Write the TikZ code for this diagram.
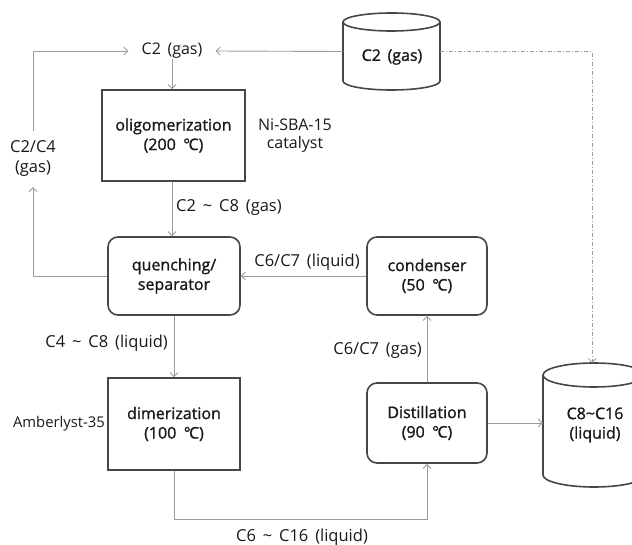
\documentclass[tikz,border=0pt]{standalone}
\usepackage{fontspec}
\setmainfont{Open Sans}[WordSpace=1.6]
\newfontfamily\semib{Open Sans}[WordSpace=1.6, FakeBold=1.2]
\usetikzlibrary{arrows.meta}
\definecolor{linec}{RGB}{155,155,155}
\definecolor{boxc}{RGB}{70,70,70}
\definecolor{txt}{RGB}{25,25,25}
\newcommand\bxfont{\semib\fontsize{16}{19.5}\selectfont}
\newcommand\lbfont{\fontsize{16.5}{20}\selectfont}
\newcommand\smfont{\fontsize{16}{18}\selectfont}
\newcommand\degc{\kern0.05em°\kern-0.1em C}
\newcommand\tl{\textasciitilde}
\tikzset{
  box/.style={draw=boxc, line width=1.6pt, align=center, font=\bxfont, text=txt, inner sep=0pt},
  rbox/.style={box, rounded corners=10pt},
  flow/.style={draw=linec, line width=0.9pt, -{Straight Barb[length=4pt,width=8pt]}},
  dashdot/.style={draw=linec, line width=0.8pt, dash pattern=on 4pt off 2pt on 1pt off 2pt, -{Straight Barb[length=4pt,width=8pt]}},
  lab/.style={font=\lbfont, text=txt, inner sep=0pt, align=center},
  small/.style={font=\smfont, text=txt, inner sep=0pt, align=center},
  cyl/.style={draw=boxc, line width=1.6pt},
}
\begin{document}
\begin{tikzpicture}[x=1pt,y=-1pt]
\useasboundingbox (0,0) rectangle (632,545);

% process boxes
\node[box, minimum width=143pt, minimum height=91pt] (olig) at (173.5,135.5) {oligomerization\\(200 \degc)};
\node[rbox, minimum width=132pt, minimum height=78pt] (quench) at (174,276) {quenching/\\separator};
\node[rbox, minimum width=120pt, minimum height=78pt] (cond) at (427,276) {condenser\\(50 \degc)};
\node[box, minimum width=132pt, minimum height=92pt] (dimer) at (174,424) {dimerization\\(100 \degc)};
\node[rbox, minimum width=120pt, minimum height=80pt] (distil) at (427,423) {Distillation\\(90 \degc)};

% cylinders
\node[inner sep=0pt, minimum width=97pt, minimum height=59pt] (c2cyl) at (391.5,51.5) {};
\draw[cyl] (343,22) -- (343,81) arc[start angle=180, end angle=360, x radius=48.5pt, y radius=9pt] -- (440,22);
\draw[cyl] (391.5,22) ellipse[x radius=48.5pt, y radius=9pt];
\node[box, draw=none] (c2cyltext) at (392,57) {C2 (gas)};

\node[inner sep=0pt, minimum width=102pt, minimum height=100pt] (prod) at (594,425) {};
\draw[cyl] (543,375) -- (543,475) arc[start angle=180, end angle=360, x radius=51pt, y radius=12pt] -- (645,375);
\draw[cyl] (594,375) ellipse[x radius=51pt, y radius=12pt];
\node[box, draw=none] (prodtext) at (595,425) {C8\tl C16\\(liquid)};
\coordinate (prodtop) at (592,363);

% labels
\node[lab, font=\fontsize{16}{20}\selectfont, inner xsep=13pt] (c2lab) at (172,51) {C2 (gas)};
\node[small] (cat) at (295,136) {Ni-SBA-15\\catalyst};
\node[lab, minimum height=56pt] (loop) at (33,159) {C2/C4\\(gas)};
\node[lab, anchor=west] (l1) at (176,208) {C2 \tl\ C8 (gas)};
\node[lab] (l2) at (307,262) {C6/C7 (liquid)};
\node[lab, anchor=east] (l3) at (168,343) {C4 \tl\ C8 (liquid)};
\node[small, font=\fontsize{14.8}{18}\selectfont, anchor=east] (amb) at (105,424) {Amberlyst-35};
\node[lab, anchor=east] (l4) at (422,351) {C6/C7 (gas)};
\node[lab] (l5) at (302,537) {C6 \tl\ C16 (liquid)};

% connectors
\draw[flow] (c2lab.south) -- (c2lab.south |- olig.north);
\draw[flow] (c2cyl.west) -- (c2lab.east);
\draw[flow] (olig.south -| c2lab.south) -- (quench.north -| c2lab.south);
\draw[flow] (cond.west) -- (quench.east);
\draw[flow] (quench.west) -| (loop.south);
\draw[flow] (loop.north) |- (c2lab.west);
\draw[flow] (quench.south) -- (dimer.north);
\coordinate (bend) at (174,519);
\draw[flow] (dimer.south) -- (bend) -| (distil.south);
\draw[flow] (distil.north) -- (cond.south);
\draw[flow] (distil.east) -- (distil.east -| prod.west);
\draw[dashdot] (c2cyl.east) -| (prodtop);
\end{tikzpicture}
\end{document}
